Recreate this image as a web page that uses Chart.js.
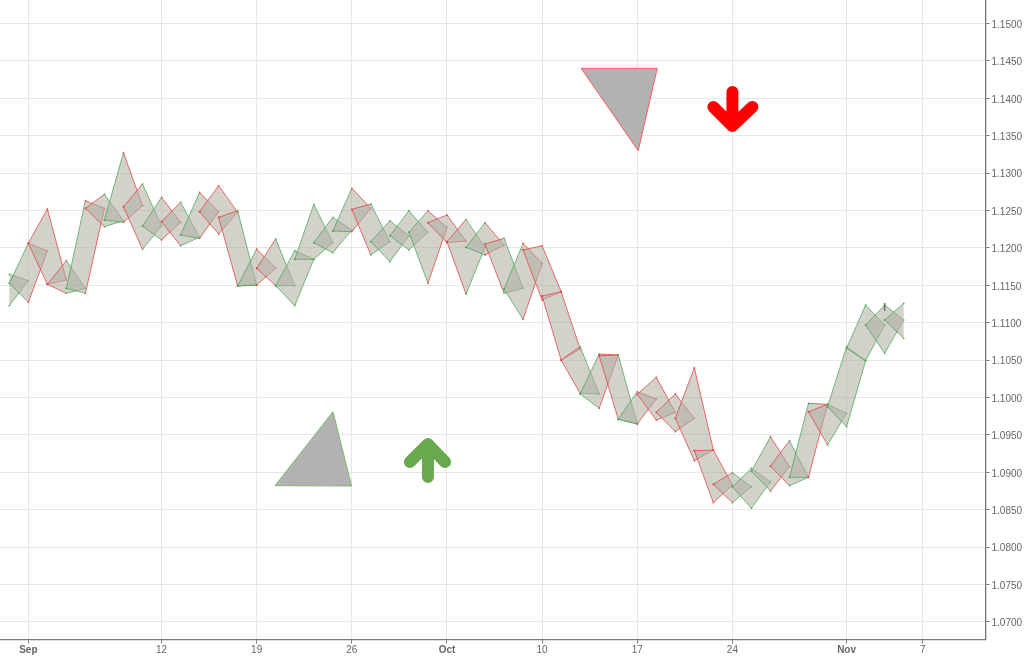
<!DOCTYPE html>
<html>
<head>
<meta charset="utf-8">
<title>Diamond chart</title>
<script src="https://cdn.jsdelivr.net/npm/chart.js@4"></script>
<style>
    html, body { margin: 0; padding: 0; background: #fff; }
    canvas { display: block; }
</style>
</head>
<body>
<canvas id="diamondChart" width="1024" height="656"></canvas>
<script>
// one value per trading day, index 0 is Aug 31
const opens = [null, 1.11527, 1.12062, 1.11513, 1.11460, 1.12529, 1.12373, 1.12551, 1.12293, 1.12350,
    1.12172, 1.12484, 1.12409, 1.11491, 1.11727, 1.11495, 1.11848, 1.12070, 1.12226, 1.12516,
    1.12083, 1.12163, 1.12209, 1.12337, 1.12083, 1.12008, 1.12052, 1.11447, 1.11972, 1.11357,
    1.10501, 1.10047, 1.10559, 1.09709, 1.10043, 1.09802, 1.09722, 1.09289, 1.08840, 1.08807,
    1.09017, 1.09084, 1.08933, 1.09810, 1.09877, 1.10658, 1.10969, 1.11036];
const highs = [1.11647, 1.12062, 1.12520, 1.11829, 1.12631, 1.12717, 1.13273, 1.12854, 1.12676, 1.12610,
    1.12743, 1.12832, 1.12497, 1.11985, 1.12119, 1.11963, 1.12583, 1.12409, 1.12797, 1.12587,
    1.12364, 1.12497, 1.12497, 1.12440, 1.12382, 1.12337, 1.12128, 1.12062, 1.12029, 1.11414,
    1.10679, 1.10582, 1.10568, 1.10078, 1.10270, 1.10047, 1.10398, 1.09298, 1.08995, 1.09054,
    1.09476, 1.09422, 1.09922, 1.09909, 1.10679, 1.11237, 1.11237, 1.11259];
const lows = [1.11227, 1.11273, 1.11513, 1.11393, 1.11393, 1.12283, 1.12342, 1.11981, 1.12106, 1.12029,
    1.12128, 1.12186, 1.11491, 1.11504, 1.11495, 1.11227, 1.11848, 1.11936, 1.12217, 1.11905,
    1.11816, 1.11972, 1.11527, 1.12070, 1.11384, 1.11905, 1.11393, 1.11045, 1.11303, 1.10501,
    1.10056, 1.09856, 1.09709, 1.09646, 1.09699, 1.09543, 1.09155, 1.08594, 1.08594, 1.08519,
    1.08750, 1.08821, 1.08933, 1.09365, 1.09610, 1.10492, 1.10591, 1.10791];
const closes = [1.11562, 1.11959, 1.11571, 1.11460, 1.12529, 1.12364, 1.12564, 1.12293, 1.12342, 1.12142,
    1.12484, 1.12476, 1.11504, 1.11727, 1.11495, 1.11848, 1.12070, 1.12239, 1.12529, 1.12083,
    1.12163, 1.12209, 1.12275, 1.12092, 1.12008, 1.12039, 1.11460, 1.11794, 1.11414, 1.10648,
    1.10047, 1.10568, 1.09646, 1.09980, 1.09802, 1.09722, 1.09298, 1.08830, 1.08807, 1.08874,
    1.09075, 1.08933, 1.09909, 1.09789, 1.10492, 1.10969, 1.11036, null];

// direction of the left and right half of each diamond, up or down
const leftDirs = ['-', 'u', 'd', 'd', 'u', 'd', 'u', 'd', 'u', 'd', 'u', 'd', 'd', 'u', 'd', 'u',
    'u', 'u', 'u', 'd', 'u', 'u', 'u', 'd', 'd', 'u', 'd', 'u', 'd', 'd', 'd', 'u',
    'd', 'u', 'd', 'd', 'd', 'd', 'd', 'u', 'u', 'd', 'u', 'd', 'u', 'u', 'u', 'u'];
const rightDirs = ['u', 'd', 'd', 'u', 'd', 'u', 'd', 'u', 'd', 'u', 'd', 'd', 'u', 'd', 'u', 'u',
    'u', 'u', 'd', 'u', 'u', 'u', 'd', 'd', 'u', 'd', 'u', 'd', 'd', 'd', 'u', 'd',
    'u', 'd', 'd', 'd', 'd', 'd', 'u', 'u', 'd', 'u', 'd', 'u', 'u', 'u', 'u', '-'];

const xTickDays = [1, 8, 13, 18, 23, 28, 33, 38, 44, 48];
const xTickLabels = ['Sep', '12', '19', '26', 'Oct', '10', '17', '24', 'Nov', '7'];
const yTickValues = [1.07, 1.075, 1.08, 1.085, 1.09, 1.095, 1.10, 1.105, 1.11, 1.115, 1.12, 1.125, 1.13, 1.135, 1.14, 1.145, 1.15];

// the two pattern triangles and the two arrows
const bearTriangleDays = [30.05, 34.05, 33.05, 30.05];
const bearTrianglePrices = [1.14401, 1.14401, 1.13299, 1.14401];
const bullTriangleDays = [17.01, 17.99, 13.96, 17.01];
const bullTrianglePrices = [1.09810, 1.08817, 1.08821, 1.09810];
const bearArrowDays = [38.0, 38.0, 37.0, 38.0, 39.05];
const bearArrowPrices = [1.14084, 1.13630, 1.13884, 1.13630, 1.13884];
const bullArrowDays = [22.0, 22.0, 21.05, 22.0, 22.9];
const bullArrowPrices = [1.08937, 1.09378, 1.09138, 1.09378, 1.09138];

// little tick sticking out above the second last bar
const markDays = [46, 46];
const markPrices = [1.11265, 1.11160];

const UP = 'rgba(70, 165, 85, 0.75)';
const DOWN = 'rgba(230, 60, 60, 0.75)';
const BAND_FILL = 'rgba(175, 175, 162, 0.56)';
const FONT = '"Liberation Sans", Arial, sans-serif';

function dirColor(d) {
    return d === 'u' ? UP : DOWN;
}

function diamondDataset(i) {
    const pts = [];
    const edges = [];
    const left = dirColor(leftDirs[i]);
    const right = dirColor(rightDirs[i]);

    if (opens[i] !== null) {
        pts.push({ x: i - 1, y: opens[i] });
        edges.push(left);
    }
    pts.push({ x: i, y: highs[i] });
    if (closes[i] !== null) {
        edges.push(right);
        pts.push({ x: i + 1, y: closes[i] });
        edges.push(right);
    } else {
        edges.push('rgba(0, 0, 0, 0)');
    }
    pts.push({ x: i, y: lows[i] });
    if (opens[i] !== null) {
        edges.push(left);
        pts.push({ x: i - 1, y: opens[i] });
    }

    return {
        data: pts,
        order: -i,
        polyFill: BAND_FILL,
        borderColor: left,
        borderWidth: 1,
        pointRadius: 0.9,
        pointBorderWidth: 0,
        pointBackgroundColor: pts.map(function (p) { return p.x > i ? right : (p.x < i ? left : right); }),
        segment: {
            borderColor: function (ctx) { return edges[ctx.p0DataIndex]; }
        }
    };
}

function pathDataset(days, prices, opts) {
    return Object.assign({
        data: days.map(function (d, k) { return { x: d, y: prices[k] }; }),
        pointRadius: 0
    }, opts);
}

const datasets = [];
for (let i = 0; i < highs.length; i++) {
    datasets.push(diamondDataset(i));
}
datasets.push(pathDataset(markDays, markPrices, { order: -100, borderColor: '#666', borderWidth: 1.5 }));
datasets.push(pathDataset(bearTriangleDays, bearTrianglePrices, { order: -101, polyFill: '#b2b2b2', borderColor: '#ff5a5a', borderWidth: 1 }));
datasets.push(pathDataset(bullTriangleDays, bullTrianglePrices, { order: -102, polyFill: '#b2b2b2', borderColor: '#7dbb6c', borderWidth: 1 }));
datasets.push(pathDataset(bearArrowDays, bearArrowPrices, { order: -103, borderColor: '#ff0000', borderWidth: 12, borderCapStyle: 'round', borderJoinStyle: 'round' }));
datasets.push(pathDataset(bullArrowDays, bullArrowPrices, { order: -104, borderColor: '#69a84f', borderWidth: 12, borderCapStyle: 'round', borderJoinStyle: 'round' }));

// line datasets only stroke, so fill the closed shape just before each one is drawn
const polygonFill = {
    id: 'polygonFill',
    beforeDatasetDraw(chart, args) {
        const ds = chart.data.datasets[args.index];
        if (!ds.polyFill) return;
        const pts = args.meta.data;
        const ctx = chart.ctx;
        ctx.save();
        ctx.beginPath();
        pts.forEach(function (p, k) {
            if (k === 0) ctx.moveTo(p.x, p.y);
            else ctx.lineTo(p.x, p.y);
        });
        ctx.closePath();
        ctx.fillStyle = ds.polyFill;
        ctx.fill();
        ctx.restore();
    }
};

new Chart(document.getElementById('diamondChart'), {
    type: 'line',
    data: { datasets: datasets },
    plugins: [polygonFill],
    options: {
        responsive: false,
        animation: false,
        layout: { padding: 0, autoPadding: false },
        plugins: {
            legend: { display: false },
            title: { display: false },
            tooltip: { enabled: false }
        },
        scales: {
            x: {
                type: 'linear',
                min: -0.4887,
                max: 51.3,
                afterFit(scale) {
                    scale.height = 16.5;
                    scale.paddingLeft = 0;
                    scale.paddingRight = 0;
                },
                afterBuildTicks(scale) {
                    scale.ticks = xTickDays.map(function (d) { return { value: d }; });
                },
                grid: { color: '#e6e6e6', tickColor: '#777', tickLength: 4 },
                border: { color: '#777', width: 1.3 },
                ticks: {
                    autoSkip: false,
                    maxRotation: 0,
                    padding: 1,
                    color: '#666',
                    callback: function (v) { return xTickLabels[xTickDays.indexOf(v)]; },
                    font: function (ctx) {
                        const label = xTickLabels[xTickDays.indexOf(ctx.tick ? ctx.tick.value : -1)];
                        const bold = label && isNaN(Number(label));
                        return { family: FONT, size: 10, weight: bold ? 'bold' : 'normal' };
                    }
                }
            },
            y: {
                type: 'linear',
                position: 'right',
                min: 1.06765,
                max: 1.15314,
                afterFit(scale) {
                    scale.width = 38.5;
                    scale.paddingTop = 0;
                    scale.paddingBottom = 0;
                },
                afterBuildTicks(scale) {
                    scale.ticks = yTickValues.map(function (v) { return { value: v }; });
                },
                grid: { color: '#e6e6e6', tickColor: '#777', tickLength: 4 },
                border: { color: '#777', width: 1.3 },
                ticks: {
                    padding: 2,
                    labelOffset: 1.5,
                    color: '#666',
                    font: { family: FONT, size: 10 },
                    callback: function (v) { return Number(v).toFixed(4); }
                }
            }
        }
    }
});
</script>
</body>
</html>
